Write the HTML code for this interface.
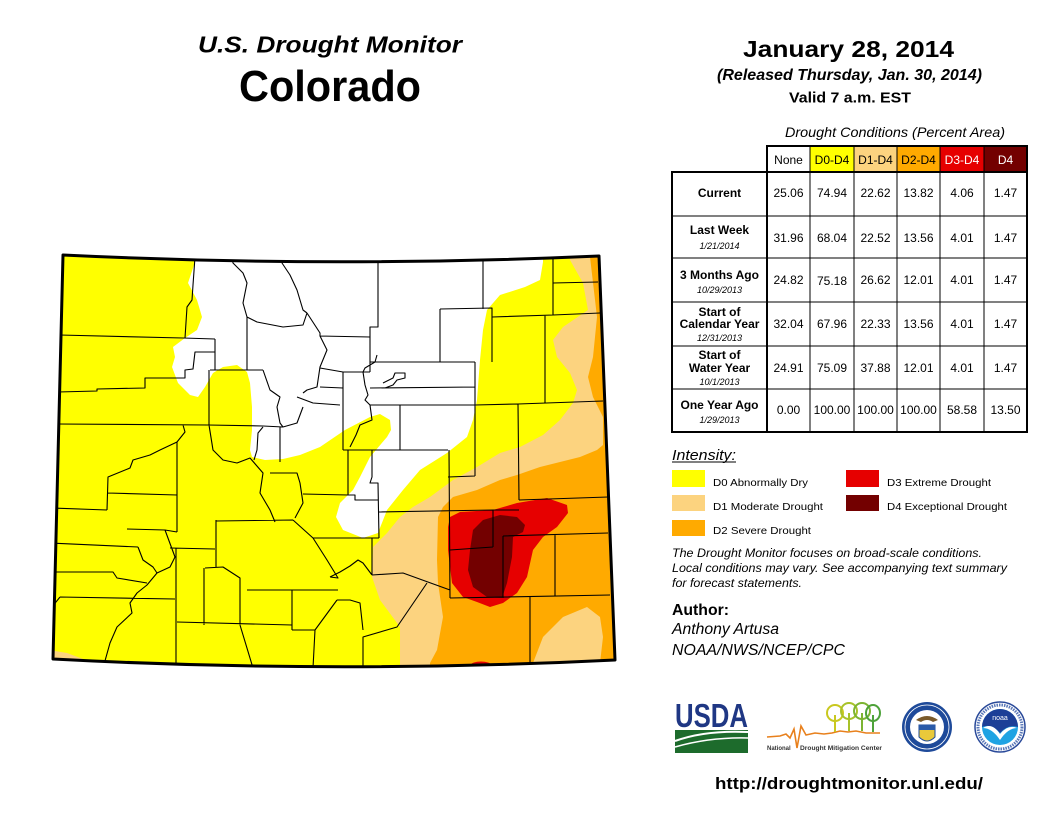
<!DOCTYPE html>
<html><head><meta charset="utf-8">
<style>
html,body{margin:0;padding:0;background:#fff;}
svg{display:block;}
text{font-family:"Liberation Sans",Arial,sans-serif;}
</style></head><body>
<svg width="1056" height="816" viewBox="0 0 1056 816" xmlns="http://www.w3.org/2000/svg">
<defs>
<clipPath id="st"><path d="M63,255 Q330,268 599,256 L615,660 Q335,674 53,659 Z"/></clipPath>
</defs>
<rect width="1056" height="816" fill="#fff"/>

<!-- Titles -->
<text x="330" y="52.5" font-size="23" font-weight="bold" font-style="italic" text-anchor="middle" textLength="264" lengthAdjust="spacingAndGlyphs">U.S. Drought Monitor</text>
<text x="330" y="101" font-size="44" font-weight="bold" text-anchor="middle" textLength="182" lengthAdjust="spacingAndGlyphs">Colorado</text>
<text x="848.5" y="57" font-size="23.5" font-weight="bold" text-anchor="middle" textLength="211" lengthAdjust="spacingAndGlyphs">January 28, 2014</text>
<text x="849.5" y="80" font-size="15.5" font-weight="bold" font-style="italic" text-anchor="middle" textLength="265" lengthAdjust="spacingAndGlyphs">(Released Thursday, Jan. 30, 2014)</text>
<text x="850" y="102.5" font-size="15" font-weight="bold" text-anchor="middle" textLength="122" lengthAdjust="spacingAndGlyphs">Valid 7 a.m. EST</text>

<!-- MAP -->
<g clip-path="url(#st)">
<rect x="40" y="240" width="590" height="445" fill="#ffff00"/>
<polygon fill="#ffffff" points="195,240 195,262 188,283 197,300 202,317 197,330 185,338 173,347 175,357 172,367 178,383 190,395 198,397 205,387 213,373 223,367 237,365 247,372 250,383 252,407 252,430 250,450 252,457 265,460 283,459 300,455 320,447 345,430 370,417 380,414 390,420 391,430 387,437 370,457 360,477 353,490 340,503 336,517 343,530 363,538 378,533 387,510 403,490 420,470 447,453 467,437 473,420 477,400 480,360 483,330 487,310 500,295 525,287 540,280 543,262 543,240"/>
<polygon fill="#fcd37f" points="570,240 570,260 583,283 588,310 563,327 553,340 557,357 570,373 577,390 573,403 560,420 543,435 520,447 500,453 477,467 453,480 430,497 413,507 400,517 387,533 373,547 372,577 380,600 400,627 400,685 630,685 630,240"/>
<polygon fill="#ffaa00" points="590,240 590,257 597,317 593,357 588,377 593,397 603,417 603,445 597,450 580,457 560,462 540,467 517,475 500,480 477,490 453,497 443,507 438,517 437,560 438,583 443,617 437,650 430,663 430,685 630,685 630,240"/>
<polygon fill="#fcd37f" points="533,685 533,663 543,637 563,617 587,607 600,617 603,637 600,663 600,685"/>
<polygon fill="#fcd37f" points="40,647 55,651 67,653 83,659 90,685 40,685"/>
<polygon fill="#e60000" points="448,527 450,517 460,512 493,510 517,503 547,498 567,505 568,513 557,527 543,537 533,550 527,577 517,593 503,603 490,607 477,602 463,597 452,583 448,550"/>
<ellipse cx="481" cy="665" rx="10" ry="3.5" fill="#e60000"/>
<polygon fill="#730000" points="473,530 483,520 500,515 517,517 525,525 523,532 513,537 512,557 507,583 502,598 487,597 473,587 468,570 470,550"/>

<path fill="none" stroke="#000" stroke-width="1.1" stroke-linejoin="round" d="
M195,257 L193,285 192,300 187,307 185,338
M59,335 L183,338 215,339
M215,339 L215,370
M215,352 L195,352 193,369 185,370 185,378 145,378 145,388 97,389 97,391 58,392
M210,370 L263,370
M209,370 L209,425
M57,424 L208,425 263,426 283,427
M232,257 L233,263 243,273 247,283 243,303 247,317 247,370
M247,317 L257,322 283,327 303,325 307,313
M282,257 L282,263 290,275 297,290 303,310 307,313
M307,313 L320,333 320,336 327,350 320,367 317,387 307,390 303,393
M320,336 L370,337
M378,257 L378,327 370,327 370,372
M320,368 L343,372 370,372
M263,370 L270,390 280,397 277,407 280,423 283,427
M297,397 L313,403 340,405
M303,407 L297,423 283,427
M320,387 L343,388
M343,372 L343,450
M370,362 L475,362
M370,388 L475,387
M370,405 L475,405
M377,355 L375,362 365,368 363,372 365,385 368,395 365,400 370,405 372,420 360,425 356,435 350,447
M383,383 L393,378 395,373 405,373 405,378 397,380 393,385 385,388
M400,405 L400,450
M343,450 L448,450
M449,450 L450,598
M475,362 L475,476
M448,477 L475,476
M483,257 L483,309
M440,309 L492,308 492,362 M440,309 L440,362
M492,317 L553,315 600,313
M553,257 L553,315
M553,283 L598,282
M545,315 L545,403
M475,405 L518,404 603,401
M518,404 L519,500
M519,500 L608,497
M493,510 L519,510
M348,450 L348,495
M303,494 L348,495 355,495 355,500 378,500
M372,450 L372,477 370,483 378,483 379,538
M313,538 L379,538
M379,512 L493,510
M493,510 L493,547
M450,550 L493,547
M503,536 L503,598
M503,536 L608,533
M555,535 L555,597
M450,598 L610,595
M530,597 L530,668
M372,538 L372,575
M330,577 L340,572 350,566 358,560 363,563 372,575
M372,575 L403,573 450,590
M427,583 L397,627 363,637 363,668
M337,600 L350,600 360,603 363,630
M209,425 L213,450 223,460 237,463 250,458 263,473 260,493 270,510 275,522
M183,425 L185,432 177,442 160,450 150,455 133,460 130,468 108,477 107,510
M177,442 L177,532
M50,508 L107,510
M108,493 L177,495
M50,543 L138,547
M127,529 L165,530 177,532
M138,547 L143,560 153,567 157,573 147,585 137,593 130,603 132,613 117,627 110,643 103,668
M50,572 L113,572 117,578 147,583
M60,597 L175,599
M48,612 L60,597
M176,548 L176,668
M170,548 L215,549
M165,530 L175,557 170,567 157,573
M216,520 L216,568
M216,521 L293,520
M293,520 L313,538 327,560 338,578 330,577
M247,590 L338,590
M205,568 L223,567 240,578 240,625
M204,568 L204,625
M177,622 L292,625
M292,590 L292,630
M240,625 L253,668
M292,630 L315,630 313,668
M315,630 L337,600
M270,473 L297,473 300,483 303,503 295,518
M280,427 L280,462
M263,427 L258,433 257,450 254,460
"/>
</g>
<path d="M63,255 Q330,268 599,256 L615,660 Q335,674 53,659 Z" fill="none" stroke="#000" stroke-width="3" stroke-linejoin="round"/>

<!-- TABLE -->
<text x="895" y="137" font-size="14" font-style="italic" text-anchor="middle" textLength="220" lengthAdjust="spacingAndGlyphs">Drought Conditions (Percent Area)</text>
<rect x="810" y="146" width="44" height="26" fill="#ffff00"/>
<rect x="854" y="146" width="43" height="26" fill="#fcd37f"/>
<rect x="897" y="146" width="43" height="26" fill="#ffaa00"/>
<rect x="940" y="146" width="44" height="26" fill="#e60000"/>
<rect x="984" y="146" width="43" height="26" fill="#730000"/>
<g stroke="#000" fill="none">
<rect x="767" y="146" width="260" height="26" stroke-width="2"/>
<rect x="672" y="172" width="355" height="260" stroke-width="2"/>
<line x1="767" y1="172" x2="767" y2="432" stroke-width="2"/>
<g stroke-width="1">
<line x1="810" y1="146" x2="810" y2="432"/>
<line x1="854" y1="146" x2="854" y2="432"/>
<line x1="897" y1="146" x2="897" y2="432"/>
<line x1="940" y1="146" x2="940" y2="432"/>
<line x1="984" y1="146" x2="984" y2="432"/>
<line x1="672" y1="216" x2="1027" y2="216"/>
<line x1="672" y1="258" x2="1027" y2="258"/>
<line x1="672" y1="302" x2="1027" y2="302"/>
<line x1="672" y1="346" x2="1027" y2="346"/>
<line x1="672" y1="389" x2="1027" y2="389"/>
</g>
</g>
<g font-size="12" text-anchor="middle">
<text x="788.5" y="164">None</text>
<text x="832" y="164">D0-D4</text>
<text x="875.5" y="164">D1-D4</text>
<text x="918.5" y="164">D2-D4</text>
<text x="962" y="164" fill="#fff">D3-D4</text>
<text x="1005.5" y="164" fill="#fff">D4</text>
</g>
<g font-size="12" font-weight="bold" text-anchor="middle">
<text x="719.5" y="197">Current</text>
<text x="719.5" y="234">Last Week</text>
<text x="719.5" y="279">3 Months Ago</text>
<text x="719.5" y="316">Start of</text>
<text x="719.5" y="328">Calendar Year</text>
<text x="719.5" y="359">Start of</text>
<text x="719.5" y="372">Water Year</text>
<text x="719.5" y="409">One Year Ago</text>
</g>
<g font-size="9" font-style="italic" text-anchor="middle">
<text x="719.5" y="249">1/21/2014</text>
<text x="719.5" y="293">10/29/2013</text>
<text x="719.5" y="341">12/31/2013</text>
<text x="719.5" y="385">10/1/2013</text>
<text x="719.5" y="423">1/29/2013</text>
</g>
<g font-size="12" text-anchor="middle">
<text x="788.5" y="197">25.06</text><text x="832" y="197">74.94</text><text x="875.5" y="197">22.62</text><text x="918.5" y="197">13.82</text><text x="962" y="197">4.06</text><text x="1005.5" y="197">1.47</text>
<text x="788.5" y="242">31.96</text><text x="832" y="242">68.04</text><text x="875.5" y="242">22.52</text><text x="918.5" y="242">13.56</text><text x="962" y="242">4.01</text><text x="1005.5" y="242">1.47</text>
<text x="788.5" y="284">24.82</text><text x="832" y="285">75.18</text><text x="875.5" y="284">26.62</text><text x="918.5" y="284">12.01</text><text x="962" y="284">4.01</text><text x="1005.5" y="284">1.47</text>
<text x="788.5" y="328">32.04</text><text x="832" y="328">67.96</text><text x="875.5" y="328">22.33</text><text x="918.5" y="328">13.56</text><text x="962" y="328">4.01</text><text x="1005.5" y="328">1.47</text>
<text x="788.5" y="372">24.91</text><text x="832" y="372">75.09</text><text x="875.5" y="372">37.88</text><text x="918.5" y="372">12.01</text><text x="962" y="372">4.01</text><text x="1005.5" y="372">1.47</text>
<text x="788.5" y="414">0.00</text><text x="832" y="414">100.00</text><text x="875.5" y="414">100.00</text><text x="918.5" y="414">100.00</text><text x="962" y="414">58.58</text><text x="1005.5" y="414">13.50</text>
</g>

<!-- LEGEND -->
<text x="672" y="460" font-size="15" font-style="italic" textLength="64" lengthAdjust="spacingAndGlyphs">Intensity:</text>
<line x1="672" y1="462" x2="736" y2="462" stroke="#000" stroke-width="1"/>
<rect x="672" y="470" width="33" height="17" fill="#ffff00"/>
<rect x="672" y="495" width="33" height="16" fill="#fcd37f"/>
<rect x="672" y="520" width="33" height="16" fill="#ffaa00"/>
<rect x="846" y="470" width="33" height="17" fill="#e60000"/>
<rect x="846" y="495" width="33" height="16" fill="#730000"/>
<g font-size="10.5">
<text x="713" y="486" textLength="95" lengthAdjust="spacingAndGlyphs">D0 Abnormally Dry</text>
<text x="713" y="510" textLength="110" lengthAdjust="spacingAndGlyphs">D1 Moderate Drought</text>
<text x="713" y="534" textLength="98" lengthAdjust="spacingAndGlyphs">D2 Severe Drought</text>
<text x="887" y="486" textLength="104" lengthAdjust="spacingAndGlyphs">D3 Extreme Drought</text>
<text x="887" y="510" textLength="120" lengthAdjust="spacingAndGlyphs">D4 Exceptional Drought</text>
</g>
<g font-size="12" font-style="italic">
<text x="672" y="557" textLength="310" lengthAdjust="spacingAndGlyphs">The Drought Monitor focuses on broad-scale conditions.</text>
<text x="672" y="572" textLength="335" lengthAdjust="spacingAndGlyphs">Local conditions may vary. See accompanying text summary</text>
<text x="672" y="587" textLength="130" lengthAdjust="spacingAndGlyphs">for forecast statements.</text>
</g>
<text x="672" y="615" font-size="16" font-weight="bold" textLength="57" lengthAdjust="spacingAndGlyphs">Author:</text>
<text x="672" y="634" font-size="15.5" font-style="italic" textLength="107" lengthAdjust="spacingAndGlyphs">Anthony Artusa</text>
<text x="672" y="655" font-size="15.5" font-style="italic" textLength="173" lengthAdjust="spacingAndGlyphs">NOAA/NWS/NCEP/CPC</text>

<!-- LOGOS -->
<text x="675" y="727" font-size="33" font-weight="bold" fill="#1f3784" textLength="73" lengthAdjust="spacingAndGlyphs">USDA</text>
<rect x="675" y="730" width="73" height="23" fill="#1d6b2c"/>
<path d="M675,741 Q705,730 748,732" stroke="#fff" stroke-width="2" fill="none"/>
<path d="M675,747 Q710,737 748,738" stroke="#fff" stroke-width="1.5" fill="none"/>
<polyline points="767,737 780,736 786,734 790,738 794,729 797,748 801,726 806,735 815,733 824,734 832,733 840,731 848,732 856,731 866,733 880,733" fill="none" stroke="#e8801c" stroke-width="1.6"/>
<g fill="none" stroke-width="2">
<ellipse cx="835" cy="713" rx="8" ry="8" stroke="#c9c81f"/>
<ellipse cx="849" cy="711" rx="8" ry="8" stroke="#a8c22a"/>
<ellipse cx="862" cy="711" rx="8" ry="8" stroke="#7cb432"/>
<ellipse cx="873" cy="713" rx="7" ry="8" stroke="#4ea23a"/>
<line x1="835" y1="715" x2="835" y2="732" stroke="#c9c81f"/>
<line x1="849" y1="713" x2="849" y2="731" stroke="#a8c22a"/>
<line x1="862" y1="713" x2="862" y2="731" stroke="#7cb432"/>
<line x1="873" y1="715" x2="873" y2="732" stroke="#4ea23a"/>
</g>
<text x="767" y="750" font-size="6" font-weight="bold" fill="#333">National</text>
<text x="800" y="750" font-size="6" font-weight="bold" fill="#333" textLength="82" lengthAdjust="spacingAndGlyphs">Drought Mitigation Center</text>
<circle cx="927" cy="727" r="25" fill="#1e4a9a"/>
<circle cx="927" cy="727" r="22" fill="none" stroke="#fff" stroke-width="0.8"/>
<circle cx="927" cy="727" r="17" fill="#fff"/>
<path d="M919,725 L935,725 L935,737 Q927,745 919,737 Z" fill="#e9c93a" stroke="#1e4a9a" stroke-width="1"/>
<rect x="919" y="725" width="16" height="5" fill="#2a5aa8"/>
<path d="M916,720 Q927,712 938,720 L933,722 Q927,718 921,722 Z" fill="#7a5a2a"/>
<circle cx="1000" cy="727" r="25" fill="#fff" stroke="#2a4a9a" stroke-width="1.5"/>
<circle cx="1000" cy="727" r="22" fill="none" stroke="#5a78b8" stroke-width="3" stroke-dasharray="1.5 1"/>
<circle cx="1000" cy="727" r="18" fill="#1fa3e3"/>
<path d="M982,727 A18,18 0 0 1 1018,727 Q1008,724 1000,733 Q992,723 982,727 Z" fill="#1c3f97"/>
<path d="M983,728 Q992,722 1000,734 Q1008,724 1017,728 Q1008,728 1000,740 Q992,728 983,728 Z" fill="#fff"/>
<text x="1000" y="720" font-size="7" fill="#fff" text-anchor="middle">noaa</text>

<text x="849" y="789" font-size="17" font-weight="bold" text-anchor="middle" textLength="268" lengthAdjust="spacingAndGlyphs">http://droughtmonitor.unl.edu/</text>
</svg>
</body></html>
